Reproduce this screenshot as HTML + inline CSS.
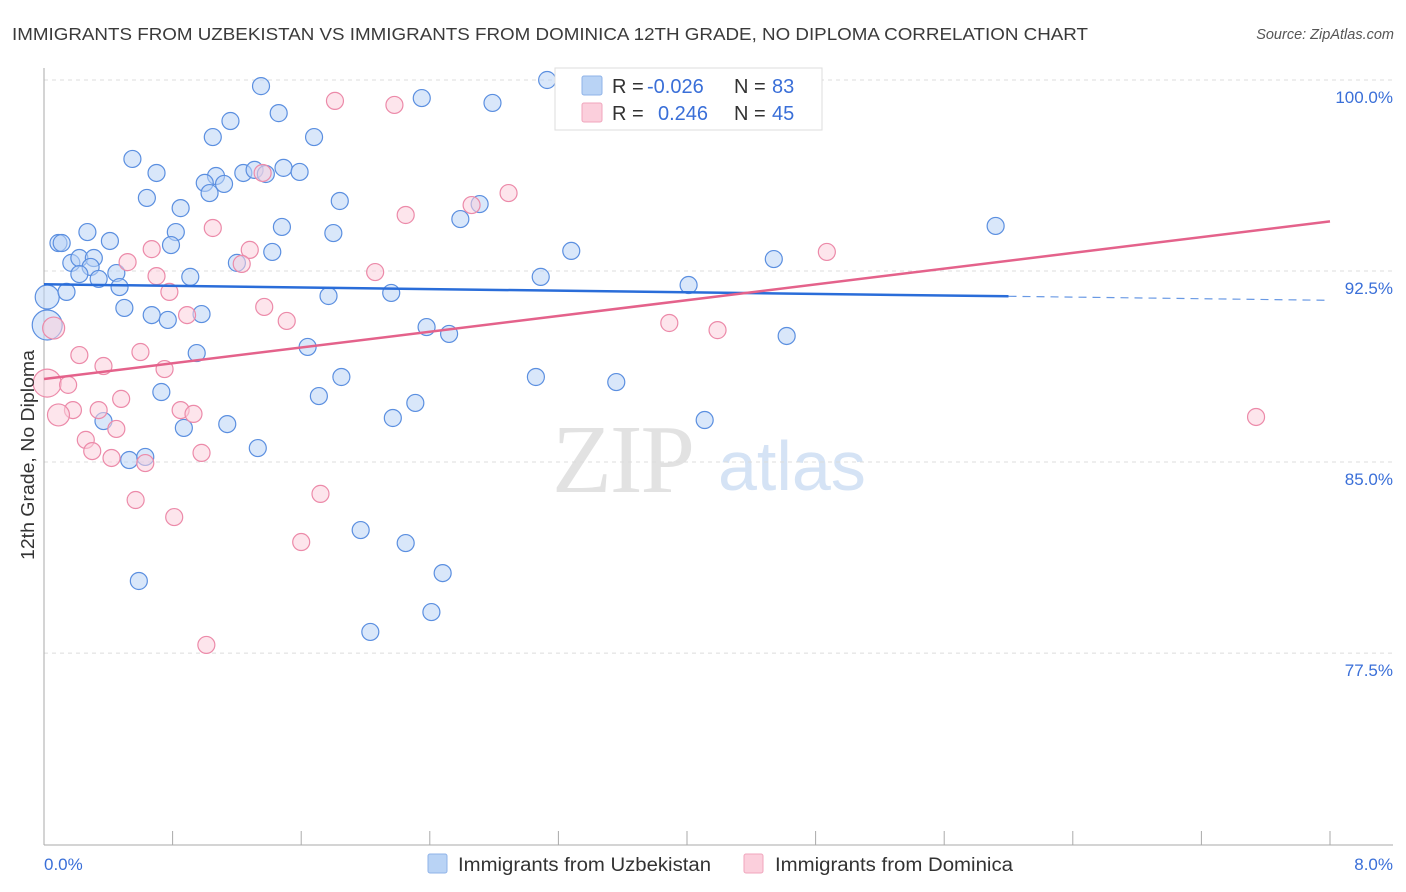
<!DOCTYPE html>
<html><head><meta charset="utf-8"><style>
body{margin:0;background:#fff;font-family:"Liberation Sans",sans-serif;}
svg{display:block}
</style></head><body>
<svg width="1406" height="892" xmlns="http://www.w3.org/2000/svg" id="chart">
<text x="12" y="40" font-size="17.5" fill="#3a3a3a" textLength="1076" lengthAdjust="spacingAndGlyphs">IMMIGRANTS FROM UZBEKISTAN VS IMMIGRANTS FROM DOMINICA 12TH GRADE, NO DIPLOMA CORRELATION CHART</text>
<text x="1394" y="39" font-size="14.5" fill="#555" font-style="italic" text-anchor="end">Source: ZipAtlas.com</text>
<g>
<text x="552" y="492" font-size="98" font-family="Liberation Serif,serif" fill="#e2e2e2" letter-spacing="-2">ZIP</text>
<text x="718" y="490" font-size="70" fill="#d5e3f5">atlas</text>
</g>
<g id="grid"></g>
<g id="axes"></g>
<g id="pts"></g>
<g id="lines"></g>
<text x="34" y="455" font-size="18" fill="#333" text-anchor="middle" textLength="210" lengthAdjust="spacingAndGlyphs" transform="rotate(-90 34 455)">12th Grade, No Diploma</text>
<text x="44" y="870" font-size="17" fill="#3a6fd8">0.0%</text>
<text x="1393" y="870" font-size="17" fill="#3a6fd8" text-anchor="end">8.0%</text>
<g>
<rect x="555" y="68" width="267" height="62" fill="#fff" stroke="#ddd"/>
<rect x="582" y="76" width="20" height="19" fill="#b9d3f5" stroke="#8fb3e8" rx="2"/>
<rect x="582" y="103" width="20" height="19" fill="#fbcfdc" stroke="#f0a6bd" rx="2"/>
<text x="612" y="93" font-size="20" fill="#333">R = <tspan fill="#3a6fd8" x="647">-0.026</tspan></text>
<text x="734" y="93" font-size="20" fill="#333">N = <tspan fill="#3a6fd8" x="772">83</tspan></text>
<text x="612" y="120" font-size="20" fill="#333">R = <tspan fill="#3a6fd8" x="658">0.246</tspan></text>
<text x="734" y="120" font-size="20" fill="#333">N = <tspan fill="#3a6fd8" x="772">45</tspan></text>
</g>
<g>
<rect x="428" y="854" width="19" height="19" fill="#b9d3f5" stroke="#8fb3e8" rx="2"/>
<text x="458" y="871" font-size="19" fill="#333" textLength="253" lengthAdjust="spacingAndGlyphs">Immigrants from Uzbekistan</text>
</g>
<g>
<rect x="744" y="854" width="19" height="19" fill="#fbcfdc" stroke="#f0a6bd" rx="2"/>
<text x="775" y="871" font-size="19" fill="#333" textLength="238" lengthAdjust="spacingAndGlyphs">Immigrants from Dominica</text>
</g>
</svg>
<script>
const yTicks=[100,92.5,85,77.5];
const yTickLabels=["100.0%","92.5%","85.0%","77.5%"];
const xTicks=[0,0.8,1.6,2.4,3.2,4,4.8,5.6,6.4,7.2,8];
const blueX=[1.35,3.13,2.35,2.79,1.46,1.16,1.05,1.68,0.55,0.70,1.07,1.00,1.12,1.03,1.24,1.31,1.38,1.49,1.59,0.64,0.85,1.84,2.71,2.59,5.92,0.09,0.11,0.27,0.41,0.82,0.79,1.48,1.80,3.28,1.42,1.20,0.17,0.22,0.31,0.29,0.34,0.45,0.22,0.47,0.91,3.09,4.54,4.01,0.02,0.14,1.77,2.16,0.50,0.67,0.77,0.98,2.38,2.52,4.62,1.64,0.95,3.06,3.56,0.73,1.85,1.71,2.31,2.17,0.37,0.87,1.14,4.11,1.33,0.53,0.63,1.97,2.25,2.48,0.59,2.41,2.03,0.02];
const blueY=[99.76,100.0,99.29,99.10,98.70,98.39,97.76,97.76,96.90,96.35,96.23,95.96,95.92,95.56,96.35,96.47,96.31,96.55,96.39,95.37,94.97,95.25,95.13,94.54,94.27,93.60,93.60,94.03,93.68,94.03,93.52,94.23,93.99,93.29,93.25,92.82,92.82,93.01,93.01,92.66,92.19,92.42,92.38,91.87,92.27,92.27,92.97,91.95,91.48,91.68,91.52,91.64,91.05,90.77,90.58,90.81,90.30,90.03,89.95,89.52,89.28,88.34,88.14,87.75,88.34,87.59,87.32,86.73,86.61,86.34,86.49,86.65,85.55,85.08,85.20,82.33,81.82,80.64,80.33,79.11,78.33,90.38];
const blueSize=blueX.map((_,i)=>i===48?12:(i===81?15:8.5));
const pinkX=[1.81,2.18,2.89,2.66,2.25,1.36,1.05,1.28,0.67,0.52,1.23,0.70,2.06,0.78,1.37,0.89,1.51,3.89,4.19,4.87,0.06,0.22,0.60,0.37,0.75,0.02,0.15,0.48,0.34,0.85,0.93,0.18,0.09,0.45,0.26,0.30,0.98,0.42,0.63,1.72,0.57,0.81,1.60,1.01,7.54];
const pinkY=[99.18,99.02,95.56,95.09,94.70,96.35,94.19,93.33,93.36,92.85,92.78,92.30,92.46,91.68,91.09,90.77,90.54,90.46,90.18,93.25,90.26,89.20,89.32,88.77,88.65,88.10,88.03,87.48,87.04,87.04,86.89,87.04,86.85,86.30,85.87,85.43,85.36,85.16,84.96,83.75,83.51,82.84,81.86,77.82,86.77];
const pinkSize=pinkX.map((_,i)=>i===20?11:(i===25?14:(i===32?11:8.5)));
const blueTrend=[91.98,91.35];
const pinkTrend=[88.26,94.45];
const blueSolidEnd=6.0;

const X=v=>44+v*160.75, Y=v=>80+(100-v)*25.47;
const NS='http://www.w3.org/2000/svg';
function mk(t,a,p){const e=document.createElementNS(NS,t);for(const k in a)e.setAttribute(k,a[k]);p.appendChild(e);return e;}
const grid=document.getElementById('grid'),axes=document.getElementById('axes'),pts=document.getElementById('pts'),lines=document.getElementById('lines');
yTicks.forEach((t,i)=>{
 const l=mk('line',{x1:44,x2:1393,y1:Y(t),y2:Y(t),stroke:'#dcdcdc','stroke-dasharray':'4 4'},grid);
 
 
 const tx=mk('text',{x:1393,y:Y(t)+23,'font-size':17,fill:'#3a6fd8','text-anchor':'end'},grid);
 tx.textContent=yTickLabels[i];
 
 
});
const ya=mk('line',{x1:44,x2:44,y1:68,y2:845,stroke:'#aaa'},axes);


const xa=mk('line',{x1:44,x2:1393,y1:845,y2:845,stroke:'#aaa'},axes);


xTicks.forEach(t=>{
 const l=mk('line',{x1:X(t),x2:X(t),y1:831,y2:845,stroke:'#aaa'},axes);
 
 
});
function draw(xs,ys,ss,fill,stroke,name){
 xs.forEach((v,i)=>{
  const c=mk('circle',{cx:X(v),cy:Y(ys[i]),r:ss[i],fill:fill,'fill-opacity':0.55,stroke:stroke,'stroke-width':1.2},pts);
  
  
 });
}
draw(blueX,blueY,blueSize,'#b9d3f5','#5b8fe0','uzbekistan-point');
draw(pinkX,pinkY,pinkSize,'#fbcfdc','#ec8aa9','dominica-point');
const bAt=v=>blueTrend[0]+(blueTrend[1]-blueTrend[0])*v/8;
const b1=mk('line',{x1:X(0),y1:Y(bAt(0)),x2:X(blueSolidEnd),y2:Y(bAt(blueSolidEnd)),stroke:'#2a6dd9','stroke-width':2.5},lines);


const b2=mk('line',{x1:X(blueSolidEnd),y1:Y(bAt(blueSolidEnd)),x2:X(8),y2:Y(bAt(8)),stroke:'#2a6dd9','stroke-width':1.2,'stroke-dasharray':'8 6','stroke-opacity':0.7},lines);


const p1=mk('line',{x1:X(0),y1:Y(pinkTrend[0]),x2:X(8),y2:Y(pinkTrend[1]),stroke:'#e4628b','stroke-width':2.5},lines);


</script>
</body></html>
